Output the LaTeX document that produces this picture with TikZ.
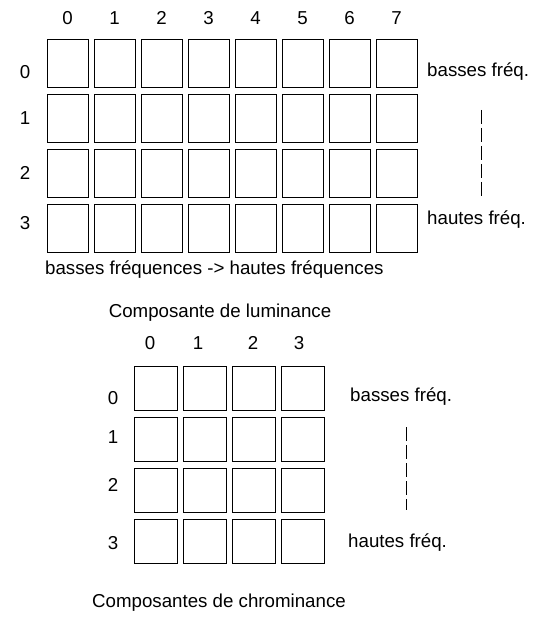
\documentclass[tikz,border=0pt]{standalone}
\usepackage{fontspec}
\setmainfont{Liberation Sans}
\begin{document}
\begin{tikzpicture}[x=1pt,y=-1pt,
  cell/.style={draw, line width=0.9pt, inner sep=0pt},
  bigcell/.style={cell, minimum width=41pt, minimum height=48pt},
  smallcell/.style={cell, minimum width=43pt, minimum height=44pt},
  lbl/.style={inner sep=0pt, font=\fontsize{18.7}{22}\selectfont},
  dashline/.style={line width=0.9pt, dash pattern=on 14pt off 4pt}]
\useasboundingbox (0,0) rectangle (544,617);
% top grid
\foreach \i in {0,...,7} {
  \node[lbl] (tc\i) at ({67.5+47*\i},18) {\i};
  \foreach \j in {0,...,3} {
    \node[bigcell] (t\i\j) at ({67.5+47*\i},{63+55.3*\j}) {};
  }
}
\node[lbl] (tr0) at (25,72) {0};
\node[lbl] (tr1) at (25,118) {1};
\node[lbl] (tr2) at (25,173) {2};
\node[lbl] (tr3) at (25,223) {3};
\node[lbl, anchor=west] (tb) at (427,72) {basses fréq.};
\node[lbl, anchor=west] (th) at (427,220) {hautes fréq.};
\coordinate (td1) at (481,110);
\coordinate (td2) at (481,198);
\draw[dashline] (td1) -- (td2);
\node[lbl, anchor=west] (tf) at (45,270) {basses fréquences -> hautes fréquences};
\node[lbl] (tt) at (220,313) {Composante de luminance};
% bottom grid
\foreach \i in {0,...,3} {
  \foreach \j in {0,...,3} {
    \node[smallcell] (b\i\j) at ({155.5+49.3*\i},{388+51.3*\j}) {};
  }
}
\node[lbl] (bc0) at (150,343) {0};
\node[lbl] (bc1) at (198,343) {1};
\node[lbl] (bc2) at (253,343) {2};
\node[lbl] (bc3) at (299,343) {3};
\node[lbl] (br0) at (113,398) {0};
\node[lbl] (br1) at (113,437) {1};
\node[lbl] (br2) at (113,485) {2};
\node[lbl] (br3) at (113,543) {3};
\node[lbl, anchor=west] (bb) at (350,397) {basses fréq.};
\node[lbl, anchor=west] (bh) at (348,543) {hautes fréq.};
\coordinate (bd1) at (406,427);
\coordinate (bd2) at (406,510);
\draw[dashline] (bd1) -- (bd2);
\node[lbl] (bt) at (219,603) {Composantes de chrominance};
\end{tikzpicture}
\end{document}
